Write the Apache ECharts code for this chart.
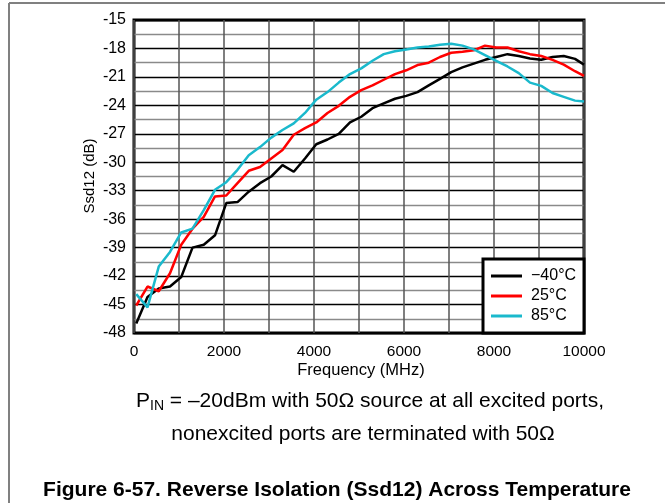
<!DOCTYPE html>
<html>
<head>
<meta charset="utf-8">
<script src="https://cdn.jsdelivr.net/npm/echarts@6/dist/echarts.min.js"></script>
<style>
html,body{margin:0;padding:0;background:#fff;}
#chart{width:665px;height:503px;}
</style>
</head>
<body>
<div id="chart"></div>
<script>
// Frequency points (MHz)
var freq = [50,300,550,800,1050,1300,1550,1800,2050,2300,2550,2800,3050,3300,3550,3800,4050,4300,4550,4800,5050,5300,5550,5800,6050,6300,6550,6800,7050,7300,7550,7800,8050,8300,8550,8800,9050,9300,9550,9800,10000];
// Ssd12 (dB) at -40 C
var tempM40 = [-47.0,-44.2,-43.3,-43.1,-42.1,-39.0,-38.7,-37.7,-34.3,-34.2,-33.1,-32.2,-31.5,-30.3,-31.0,-29.6,-28.1,-27.6,-27.0,-25.8,-25.2,-24.3,-23.8,-23.3,-23.0,-22.6,-21.9,-21.2,-20.5,-20.0,-19.6,-19.2,-18.9,-18.6,-18.8,-19.05,-19.2,-18.9,-18.8,-19.1,-19.7];
// Ssd12 (dB) at 25 C
var temp25 = [-45.1,-43.1,-43.6,-41.7,-38.7,-37.0,-35.75,-33.6,-33.5,-32.2,-30.9,-30.5,-29.6,-28.7,-27.1,-26.4,-25.8,-24.8,-24.05,-23.1,-22.4,-21.9,-21.3,-20.7,-20.3,-19.75,-19.5,-18.9,-18.45,-18.35,-18.2,-17.7,-17.9,-17.9,-18.3,-18.6,-18.8,-19.2,-19.7,-20.4,-20.9];
// Ssd12 (dB) at 85 C
var temp85 = [-43.9,-45.3,-41.0,-39.45,-37.4,-37.0,-35.05,-32.9,-32.1,-30.8,-29.25,-28.4,-27.4,-26.6,-25.9,-24.8,-23.4,-22.6,-21.6,-20.7,-20.1,-19.3,-18.6,-18.3,-18.1,-17.9,-17.8,-17.6,-17.5,-17.7,-18.1,-18.7,-19.3,-19.9,-20.6,-21.6,-21.95,-22.7,-23.1,-23.5,-23.6];
var seriesNames = ['\u221240\u00b0C','25\u00b0C','85\u00b0C'];
var xTicks = [0,2000,4000,6000,8000,10000];
var yTicks = [-48,-45,-42,-39,-36,-33,-30,-27,-24,-21,-18,-15];

function pairs(ys){ return freq.map(function(f,i){ return [f, ys[i]]; }); }

var FONT = '"Liberation Sans", Arial, sans-serif';
var chart = echarts.init(document.getElementById('chart'), null, {renderer:'canvas'});
var colors = ['#000000','#ff0000','#1ab9cc'];

var option = {
  backgroundColor:'#fff',
  animation:false,
  textStyle:{fontFamily:FONT},
  grid:{left:134, top:20, width:450, height:313, show:true, borderColor:'#000', borderWidth:3, backgroundColor:'transparent'},
  xAxis:{
    type:'value', min:xTicks[0], max:xTicks[xTicks.length-1], interval:1000,
    axisLine:{show:false}, axisTick:{show:false},
    axisLabel:{color:'#000', fontSize:15.5, fontFamily:FONT, margin:11,
      formatter:function(v){ return xTicks.indexOf(v) >= 0 ? String(v) : ''; }},
    splitLine:{show:true, lineStyle:{color:'#555', width:1.5}}
  },
  yAxis:{
    type:'value', min:yTicks[0], max:yTicks[yTicks.length-1], interval:3,
    axisLine:{show:false}, axisTick:{show:false},
    axisLabel:{color:'#000', fontSize:16, fontFamily:FONT, margin:8,
      formatter:function(v){ return String(v); }},
    splitLine:{show:true, lineStyle:{color:'#000', width:1.4}},
    minorTick:{show:false, splitNumber:2},
    minorSplitLine:{show:true, lineStyle:{color:'#8a8a8a', width:1.4}}
  },
  legend:{
    left:491, top:268, orient:'vertical', itemWidth:31, itemHeight:3, itemGap:4,
    icon:'rect', z:12, padding:0,
    textStyle:{color:'#000', fontSize:16, fontFamily:FONT, padding:[0,0,0,4]},
    data:seriesNames
  },
  series:[
    {name:seriesNames[0], type:'line', data:pairs(tempM40), symbol:'none', z:5, lineStyle:{color:colors[0], width:2.5}, itemStyle:{color:colors[0]}},
    {name:seriesNames[1], type:'line', data:pairs(temp25), symbol:'none', z:5, lineStyle:{color:colors[1], width:2.5}, itemStyle:{color:colors[1]}},
    {name:seriesNames[2], type:'line', data:pairs(temp85), symbol:'none', z:5, lineStyle:{color:colors[2], width:2.5}, itemStyle:{color:colors[2]}}
  ],
  graphic:[
    {type:'line', z:1, shape:{x1:9, y1:3, x2:665, y2:3}, style:{stroke:'#808080', lineWidth:2}},
    {type:'line', z:1, shape:{x1:9, y1:3, x2:9, y2:503}, style:{stroke:'#808080', lineWidth:2}},
    {type:'rect', z:10, shape:{x:483, y:259, width:101, height:74}, style:{fill:'#fff', stroke:'#000', lineWidth:3}},
    {type:'text', z:10, x:90, y:176, rotation:Math.PI/2,
      style:{text:'Ssd12 (dB)', font:'15px '+FONT, fill:'#000', align:'center', verticalAlign:'middle'}},
    {type:'text', z:10, x:361, y:370,
      style:{text:'Frequency (MHz)', font:'16.5px '+FONT, fill:'#000', align:'center', verticalAlign:'middle'}},
    {type:'text', z:10, x:370, y:401,
      style:{text:'{p|P}{s|IN}{p| = \u201320dBm with 50\u03a9 source at all excited ports,}',
        align:'center', verticalAlign:'middle',
        rich:{p:{fontSize:21, fontFamily:FONT, fill:'#000', color:'#000'}, s:{fontSize:14, fontFamily:FONT, color:'#000', padding:[10,0,0,0]}}}},
    {type:'text', z:10, x:363, y:434,
      style:{text:'nonexcited ports are terminated with 50\u03a9', font:'21px '+FONT, fill:'#000', align:'center', verticalAlign:'middle'}},
    {type:'text', z:10, x:337, y:490,
      style:{text:'Figure 6-57. Reverse Isolation (Ssd12) Across Temperature', font:'bold 21px '+FONT, fill:'#000', align:'center', verticalAlign:'middle'}}
  ]
};
chart.setOption(option);
</script>
</body>
</html>
